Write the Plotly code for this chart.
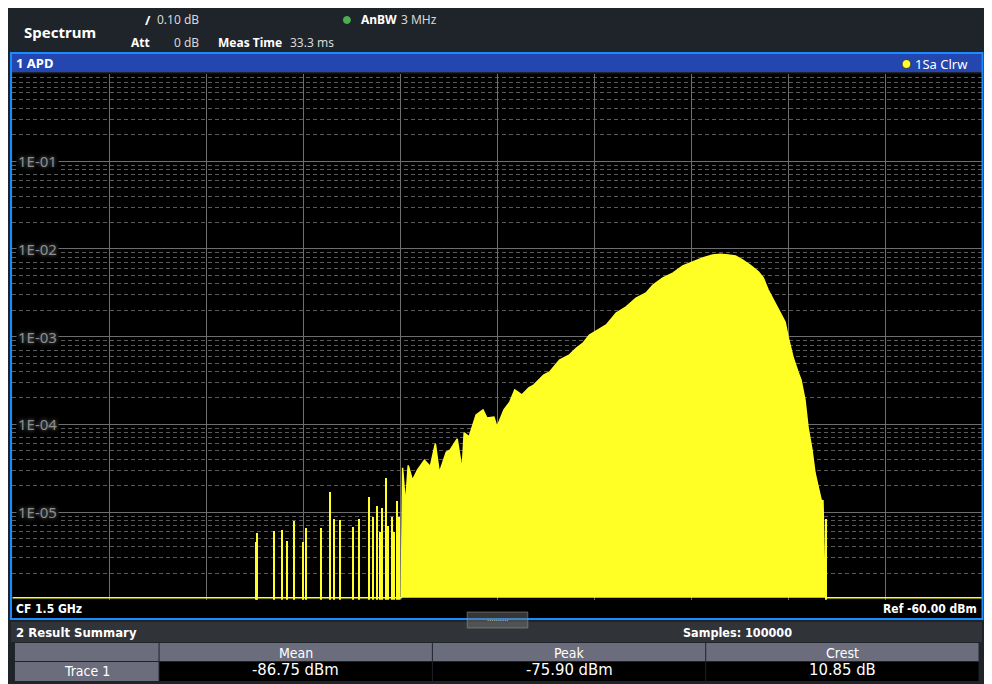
import math
import plotly.graph_objects as go

# the page puts the figure 8 px in from the top-left corner; the layout below is
# measured in screenshot pixels over a 982 px wide span, drawn into 976 px
OFF = 8
SPAN_W = 982
W, H = 976, 676

# APD trace: level (dBm) vs. probability
body_dbm = [-119.9, -119.77, -119.47, -119.19, -118.75, -118.24, -117.52, -116.91, -116.39,
            -115.98, -115.27, -114.86, -114.14, -113.63, -113.42, -112.91, -112.19, -111.48,
            -111.07, -110.35, -110.04, -109.32, -108.71, -108.2, -107.48, -106.76, -106.25,
            -105.23, -104.61, -103.59, -102.56, -101.84, -101.13, -100.51, -99.8, -98.77,
            -97.75, -96.72, -95.7, -94.67, -93.95, -92.93, -91.91, -90.88, -89.86, -88.83,
            -87.81, -86.99, -86.17, -85.45, -84.73, -83.91, -83.09, -82.58, -82.07, -81.35,
            -80.84, -80.33, -80.02, -79.51, -79.0, -78.69, -78.28, -77.97, -77.56, -77.25,
            -76.95, -76.54, -76.43, -76.33, -76.23, -76.13]
body_apd = [1.05e-6, 3.2e-5, 1.2e-5, 3.4e-5, 2.3e-5, 3.0e-5, 3.9e-5, 3.3e-5, 6.0e-5,
            2.8e-5, 4.8e-5, 5.1e-5, 6.8e-5, 3.0e-5, 8.0e-5, 7.2e-5, 1.28e-4, 1.46e-4,
            1.18e-4, 1.21e-4, 9.3e-5, 1.46e-4, 1.8e-4, 2.46e-4, 2.16e-4, 2.6e-4, 2.8e-4,
            3.65e-4, 3.95e-4, 5.4e-4, 6.2e-4, 7.4e-4, 8.5e-4, 1.04e-3, 1.16e-3, 1.36e-3,
            1.86e-3, 2.18e-3, 2.75e-3, 3.14e-3, 3.87e-3, 4.66e-3, 5.3e-3, 6.4e-3, 7.1e-3, 7.9e-3,
            8.5e-3, 8.7e-3, 8.5e-3, 8.3e-3, 7.5e-3, 6.5e-3, 5.5e-3, 4.66e-3, 3.4e-3, 2.42e-3,
            1.86e-3, 1.47e-3, 9.9e-4, 5.8e-4, 3.95e-4, 3.2e-4, 1.9e-4, 9.3e-5, 5.1e-5, 2.8e-5,
            2.0e-5, 1.27e-5, 1.37e-5, 3.1e-6, 1.3e-6, 1.05e-6]

# isolated low-probability hits
spike_dbm = [-134.85, -134.7, -132.92, -132.17, -131.66, -130.87, -130.02, -129.68, -128.07,
             -127.2, -126.77, -126.13, -124.85, -124.18, -123.16, -122.75, -122.34, -122.0,
             -121.82, -121.41, -121.2, -120.8, -120.6, -120.29, -120.1, -76.02]
spike_apd = [4.6e-6, 5.8e-6, 6.2e-6, 6.4e-6, 4.7e-6, 8.0e-6, 4.6e-6, 6.6e-6, 6.6e-6,
             1.7e-5, 8.5e-6, 8.3e-6, 6.9e-6, 8.5e-6, 1.5e-5, 8.8e-6, 1.2e-5, 6e-6,
             1.14e-5, 2.5e-5, 7e-6, 8.8e-6, 6e-6, 1.37e-5, 9e-6, 8.5e-6]

floor_apd = 1.05e-6
x_start, x_stop = -160, -60
y_tick_vals = [1e-1, 1e-2, 1e-3, 1e-4, 1e-5]
y_tick_text = ['1E-01', '1E-02', '1E-03', '1E-04', '1E-05']

summary_cols = ['Mean', 'Peak', 'Crest']
summary_vals = ['-86.75 dBm', '-75.90 dBm', '10.85 dB']
summary_row = 'Trace 1'

YEL = '#ffff26'
FONT = 'Noto Sans, Open Sans, sans-serif'
NARROW = 'Liberation Sans Narrow, DejaVu Sans Condensed, Noto Sans, sans-serif'


# screen pixel (as in the screenshot) -> paper fraction
def px(x):
    return (x - OFF) / SPAN_W


def py(y):
    return 1 - (y - OFF) / H


def rect(x0, y0, x1, y1, fill=None, line=None, lw=0, layer='above'):
    return dict(type='rect', xref='paper', yref='paper', x0=px(x0), x1=px(x1),
                y0=py(y1), y1=py(y0), fillcolor=fill or 'rgba(0,0,0,0)',
                line=dict(color=line or 'rgba(0,0,0,0)', width=lw), layer=layer)


def dot(cx, cy, r, fill, line=None):
    return dict(type='circle', xref='paper', yref='paper', x0=px(cx - r), x1=px(cx + r),
                y0=py(cy + r), y1=py(cy - r), fillcolor=fill,
                line=dict(color=line or fill, width=1))


def label(text, x, y, size=12, color='white', bold=False, xanchor='left', family=FONT):
    return dict(text=f'<b>{text}</b>' if bold else text, x=px(x), y=py(y),
                xref='paper', yref='paper', xanchor=xanchor, yanchor='middle',
                showarrow=False, font=dict(size=size, color=color, family=family))


fig = go.Figure()

fig.add_trace(go.Scatter(
    x=[x_start] + body_dbm + [x_stop],
    y=[floor_apd] + body_apd + [floor_apd],
    mode='lines', fill='toself', fillcolor=YEL,
    line=dict(color=YEL, width=1.5), hoverinfo='skip', showlegend=False,
))
fig.add_trace(go.Bar(
    x=spike_dbm, y=spike_apd, width=0.16,
    marker=dict(color=YEL, line=dict(width=0)), hoverinfo='skip', showlegend=False,
))

shapes = [
    rect(12, 54, 988, 72, fill='#2346b0'),
    rect(12, 600, 988, 618, fill='#000000'),
    rect(11, 53, 988.5, 619, line='#1a8cff', lw=2),
    rect(11, 622, 988, 642, fill='#303438'),
    rect(15, 643, 159.5, 661, fill='#6b6c7c'),
    rect(15, 662, 159.5, 681, fill='#6b6c7c'),
    rect(470, 612, 531, 628, fill='rgba(120,120,120,0.45)', line='rgba(160,160,160,0.5)', lw=1),
    dot(349, 20, 3.5, '#4caf50'),
    dot(912, 64, 4.5, '#ffff30', line='#333333'),
]
col_edges = [160, 435, 710, 985]
annotations = []
for i, (name, val) in enumerate(zip(summary_cols, summary_vals)):
    x0, x1 = col_edges[i] + 0.5, col_edges[i + 1] - 0.5
    shapes.append(rect(x0, 643, x1, 661, fill='#6b6c7c'))
    shapes.append(rect(x0, 662, x1, 681, fill='#000000'))
    xc = (x0 + x1) / 2
    annotations.append(label(name, xc, 653, size=14, xanchor='center', family=NARROW))
    annotations.append(label(val, xc, 669, size=16.5, xanchor='center', family=NARROW))
annotations.append(label(summary_row, 87, 671, size=14, xanchor='center', family=NARROW))

annotations += [
    label('Spectrum', 22, 32, size=15, bold=True),
    label('/', 144, 20, size=13, bold=True),
    label('0.10 dB', 156, 20, size=12, color='#d8d8d8'),
    label('Att', 130, 43, size=12, bold=True),
    label('0 dB', 202, 43, size=12, color='#d8d8d8', xanchor='right'),
    label('Meas Time', 217, 43, size=12, bold=True),
    label('33.3 ms', 290, 43, size=12, color='#d8d8d8'),
    label('AnBW', 361, 20, size=12, bold=True),
    label('3 MHz', 401, 20, size=12, color='#d8d8d8'),
    label('1 APD', 14, 63, size=13, bold=True),
    label('1Sa Clrw', 919, 64, size=13),
    label('CF 1.5 GHz', 14, 609, size=12, bold=True, family=NARROW),
    label('Ref -60.00 dBm', 985, 609, size=12, bold=True, xanchor='right', family=NARROW),
    label('2 Result Summary', 14, 632, size=13, bold=True, family=NARROW),
    label('Samples: 100000', 685, 632, size=12.5, bold=True, family=NARROW),
    label('··········', 500.5, 620, size=8, color='#bbbbbb', xanchor='center'),
]
for v, t in zip(y_tick_vals, y_tick_text):
    annotations.append(dict(
        text=t, x=px(16), y=math.log10(v), xref='paper', yref='y',
        xanchor='left', yanchor='middle', showarrow=False, bgcolor='#000000',
        font=dict(size=15, color='#8e8e8e', family=FONT,
                  shadow='0px 0px 4px rgba(220,220,220,0.6)'),
    ))

fig.update_layout(
    width=W, height=H, autosize=False,
    margin=dict(l=0, r=0, t=0, b=0),
    paper_bgcolor='#1f242a', plot_bgcolor='#000000',
    xaxis=dict(domain=[px(12.4), px(988.3)], range=[x_start, x_stop], tick0=x_start, dtick=10,
               showgrid=True, gridcolor='#6e6e6e', gridwidth=1, zeroline=False,
               showticklabels=False, ticks='', fixedrange=True),
    yaxis=dict(domain=[py(599.7), py(73.5)], type='log', range=[-6, 0], dtick=1,
               showgrid=True, gridcolor='#6e6e6e', gridwidth=1, zeroline=False,
               showticklabels=False, ticks='', fixedrange=True,
               minor=dict(dtick='D1', showgrid=True, gridcolor='#5a5a5a',
                          griddash='4px,3px', gridwidth=1, ticks='')),
    shapes=shapes, annotations=annotations,
    showlegend=False, bargap=0,
)

fig.write_html('out.html')
